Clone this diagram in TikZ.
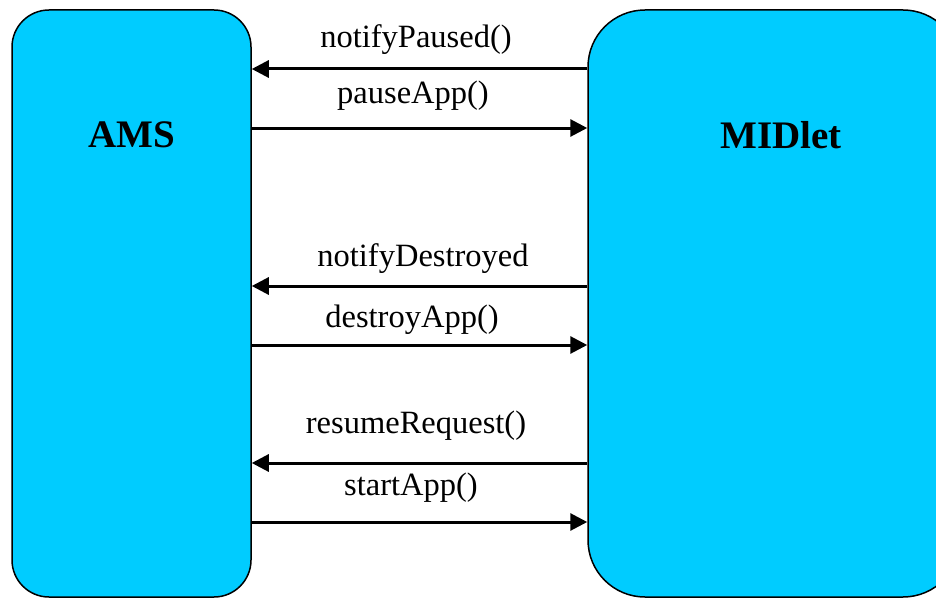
\documentclass[tikz,border=0pt]{standalone}
\usepackage{fontspec}
\setmainfont{Liberation Serif}
\usetikzlibrary{arrows.meta}
\definecolor{boxblue}{RGB}{0,204,255}
\begin{document}
\begin{tikzpicture}[x=1pt,y=-1pt,
  boxstyle/.style={draw=black,line width=1.5pt,fill=boxblue,rectangle,inner sep=0pt},
  msg/.style={line width=3pt,-{Triangle[length=17pt,width=17pt]}},
  msglabel/.style={font=\fontsize{32.5}{38}\selectfont,inner sep=0pt},
  title/.style={font=\fontsize{39}{44}\selectfont\bfseries,inner sep=0pt}]
\useasboundingbox (0,0) rectangle (936,599);
\begin{scope}
\clip (0,0) rectangle (936,599);
\node[boxstyle,rounded corners=37pt,minimum width=239pt,minimum height=587pt] (ams) at (131.5,303.5) {};
\node[boxstyle,rounded corners=57pt,minimum width=372pt,minimum height=587pt] (mid) at (774,303.5) {};
\end{scope}
\node[title] (amst) at (131.5,135) {AMS};
\node[title] (midt) at (781,135) {MIDlet};

\draw[msg] (mid.west |- 0,69) -- (ams.east |- 0,69);
\draw[msg] (ams.east |- 0,128) -- (mid.west |- 0,128);
\draw[msg] (mid.west |- 0,286) -- (ams.east |- 0,286);
\draw[msg] (ams.east |- 0,345) -- (mid.west |- 0,345);
\draw[msg] (mid.west |- 0,463) -- (ams.east |- 0,463);
\draw[msg] (ams.east |- 0,522) -- (mid.west |- 0,522);

\node[msglabel] (l1) at (416,40) {notifyPaused()};
\node[msglabel] (l2) at (413,96) {pauseApp()};
\node[msglabel] (l3) at (423,259) {notifyDestroyed};
\node[msglabel] (l4) at (412,320) {destroyApp()};
\node[msglabel] (l5) at (416,426) {resumeRequest()};
\node[msglabel] (l6) at (411,488) {startApp()};
\end{tikzpicture}
\end{document}
